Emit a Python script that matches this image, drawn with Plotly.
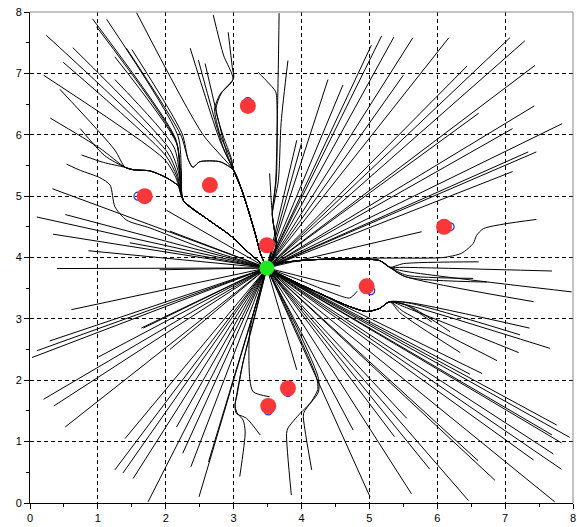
import plotly.graph_objects as go

# ---------------- data ----------------
GOAL_X, GOAL_Y = 3.49, 3.83

obstacle_x = [1.69, 2.65, 3.21, 3.49, 4.96, 6.10, 3.80, 3.51]
obstacle_y = [5.00, 5.18, 6.47, 4.20, 3.53, 4.50, 1.87, 1.58]

ring_x = [1.59, 3.21, 5.02, 6.19, 3.80, 3.51]
ring_y = [5.00, 6.54, 3.46, 4.50, 1.80, 1.50]

# straight trajectories (start points), all ending at the goal
upper_right_x = [4.39, 4.61, 5.03, 5.18, 3.93, 4.00, 5.36, 5.64, 6.17, 5.50, 6.44,
                 7.07, 7.29, 7.44, 6.61, 7.43, 7.84, 7.11, 7.34, 7.46, 7.11, 5.77]
upper_right_y = [6.90, 6.81, 7.46, 7.61, 5.91, 5.86, 7.59, 7.58, 7.58, 6.97, 7.12,
                 7.58, 7.53, 7.13, 6.35, 6.47, 6.18, 6.10, 5.72, 5.72, 5.40, 4.42]
left_x = [0.33, 0.10, 0.52, 0.34, 0.86, 0.40, 0.61, 2.01, 2.06, 1.47, 1.91, 1.67,
          0.29, 0.10, 0.03, 1.01, 0.20, 0.35, 0.52, 1.64, 2.06, 1.40]
left_y = [5.12, 4.66, 4.70, 4.38, 4.11, 3.82, 3.15, 4.77, 4.43, 4.24, 3.80, 2.85,
          2.64, 2.48, 2.37, 2.38, 1.69, 1.58, 1.24, 2.85, 2.50, 1.05]
bottom_left_x = [1.74, 2.49, 2.63, 2.37, 2.25, 2.16, 1.52, 1.25, 1.37]
bottom_left_y = [0.02, 0.10, 0.67, 0.59, 0.81, 1.24, 0.40, 0.54, 0.49]
bottom_right_x = [4.76, 5.01, 5.62, 6.46, 7.73, 6.85, 6.60, 5.89, 5.55, 7.83, 7.42,
                  7.71, 7.95, 7.76, 7.83, 7.69, 6.66, 6.48, 5.37, 3.93, 4.57]
bottom_right_y = [1.19, 0.10, 0.15, 0.04, 0.02, 0.37, 0.69, 0.55, 1.38, 0.55, 0.70,
                  0.80, 1.07, 1.27, 0.98, 1.11, 2.11, 2.10, 1.08, 2.17, 3.53]

# shared path segments around the obstacles
gap12_x = [2.26, 2.62, 2.95, 3.25]
gap12_y = [4.93, 4.62, 4.36, 4.05]
gap23_x = [3.00, 3.12, 3.23, 3.32, 3.40]
gap23_y = [5.42, 5.10, 4.72, 4.38, 4.05]
lobe1_x = [1.40, 1.52, 1.77, 2.01, 2.20]
lobe1_y = [5.47, 5.43, 5.41, 5.30, 5.15]
lobe2_x = [2.33, 2.40, 2.50, 2.80]
lobe2_y = [5.60, 5.47, 5.56, 5.56]
right4_x = [3.57, 3.60, 3.63, 3.58]
right4_y = [4.70, 4.45, 4.22, 3.98]
above5_x = [5.30, 5.15, 4.30, 3.75]
above5_y = [3.84, 3.95, 3.97, 3.92]
below5_x = [5.30, 5.15, 4.96, 4.71, 3.83]
below5_y = [3.28, 3.17, 3.12, 3.20, 3.64]

# lines from the top-left through the gap between obstacles 1 and 2
g12_start_x = [0.24, 0.63, 0.49, 0.20, 1.25, 0.92, 0.98, 1.13, 1.25]
g12_start_y = [7.62, 7.42, 7.18, 6.97, 6.90, 7.89, 7.76, 7.88, 7.27]
g12_entry_x = [2.02, 2.06, 2.00, 1.98, 2.12, 2.14, 2.15, 2.18, 2.16]
g12_entry_y = [5.72, 5.76, 5.66, 5.60, 5.80, 5.95, 5.90, 5.98, 5.86]
g12_neck_x = [2.17, 2.19, 2.16, 2.15, 2.20, 2.22, 2.21, 2.23, 2.21]
g12_neck_y = [5.36, 5.38, 5.33, 5.30, 5.40, 5.42, 5.37, 5.41, 5.35]

# lines sliding over obstacle 1
l1_start_x = [0.30, 0.74, 0.76, 0.44]
l1_start_y = [6.27, 6.10, 5.67, 6.74]
l1_entry_x = [1.03, 1.10, 1.08, 1.25]
l1_entry_y = [5.78, 5.66, 5.55, 5.75]

# lines sliding over obstacle 2
l2_start_x = [1.42, 1.50]
l2_start_y = [7.41, 7.39]
l2_entry_x = [2.22, 2.24]
l2_entry_y = [6.00, 6.02]

# lines through the gap between obstacles 2 and 3
g23_start_x = [1.57, 2.36, 2.48, 2.58]
g23_start_y = [7.99, 7.41, 7.22, 7.16]
g23_entry_x = [2.55, 2.80, 2.85, 2.90]
g23_entry_y = [6.00, 5.90, 5.78, 5.70]

# paths bending around obstacle 3 (left side)
top3_left_a_x = [2.70, 2.85, 2.99, 2.80, 2.72, 2.80, 2.95]
top3_left_a_y = [7.95, 7.30, 6.90, 6.66, 6.42, 6.00, 5.63]
top3_left_b_x = [2.92, 2.98, 3.00, 2.82, 2.74, 2.84, 2.97]
top3_left_b_y = [7.67, 7.10, 6.92, 6.68, 6.42, 6.00, 5.60]
# paths passing right of obstacle 3 and 4
top3_right_a_x = [3.67, 3.66, 3.65, 3.62]
top3_right_a_y = [7.98, 7.20, 6.61, 5.26]
top3_right_b_x = [3.36, 3.50, 3.62, 3.64, 3.63]
top3_right_b_y = [7.02, 6.86, 6.70, 6.40, 5.30]
top3_right_c_x = [3.80, 3.70, 3.66]
top3_right_c_y = [7.21, 6.20, 5.26]
top3_right_d_x = [3.53, 3.55]
top3_right_d_y = [5.37, 5.00]
# left of obstacle 1
left1_x = [0.54, 0.74, 1.03, 1.18, 1.25, 1.42, 1.77, 2.50]
left1_y = [5.52, 5.42, 5.30, 5.18, 4.83, 4.61, 4.48, 4.17]

# S-shaped path near obstacle 6
s6_x = [7.46, 6.68, 6.58, 6.53, 6.36, 6.09, 5.50, 5.11, 4.30, 3.75]
s6_y = [4.62, 4.47, 4.36, 4.23, 4.07, 4.00, 3.99, 3.99, 3.97, 3.92]

# over obstacle 5
a5_start_x = [6.61, 7.69, 7.98, 7.42, 6.73, 6.53]
a5_start_y = [3.93, 3.78, 3.44, 3.28, 3.60, 3.66]
a5_via_x = [5.50, 5.50, 5.50, 5.50, 5.55, 5.55]
a5_via_y = [3.90, 3.84, 3.78, 3.70, 3.68, 3.71]
# under obstacle 5
b5_start_x = [7.36, 7.22, 7.66, 7.20, 6.88, 6.34, 6.19, 5.92]
b5_start_y = [2.85, 2.74, 2.52, 2.45, 2.32, 2.45, 2.79, 2.95]
b5_via_x = [5.62, 5.62, 5.58, 5.55, 5.50, 5.45, 5.60, 5.55]
b5_via_y = [3.26, 3.25, 3.22, 3.18, 3.12, 3.10, 3.20, 3.22]
hook5_x = [4.82, 4.71, 4.46, 4.00]
hook5_y = [3.45, 3.34, 3.42, 3.62]

# around obstacles 7 and 8
bot_a_x = [3.53, 3.29, 3.24, 3.24]
bot_a_y = [1.73, 1.81, 2.00, 2.82]
bot_b_x = [3.39, 3.19, 3.04, 3.02, 3.04, 3.12, 3.25]
bot_b_y = [1.11, 1.38, 1.46, 1.57, 1.73, 2.20, 2.80]
bot_c_x = [3.09, 3.17, 3.14, 3.05, 3.02, 3.05, 3.14, 3.28]
bot_c_y = [0.43, 1.16, 1.35, 1.47, 1.60, 1.76, 2.30, 2.90]
bot_d_x = [3.85, 3.78, 3.80, 3.98, 4.15, 4.25, 4.25, 4.00]
bot_d_y = [0.13, 1.13, 1.22, 1.46, 1.65, 1.81, 2.03, 2.70]
bot_e_x = [4.15, 4.05, 4.03, 4.15, 4.24, 4.22]
bot_e_y = [0.54, 1.20, 1.46, 1.66, 1.85, 2.05]

# ---------------- build traces ----------------
sx, sy = [], []
for xs, ys in [(upper_right_x, upper_right_y), (left_x, left_y),
               (bottom_left_x, bottom_left_y), (bottom_right_x, bottom_right_y)]:
    for x, y in zip(xs, ys):
        sx += [x, GOAL_X, None]
        sy += [y, GOAL_Y, None]

cx, cy = [], []


def add(px, py):
    cx.extend(list(px) + [GOAL_X, None])
    cy.extend(list(py) + [GOAL_Y, None])


for i in range(len(g12_start_x)):
    add([g12_start_x[i], g12_entry_x[i], g12_neck_x[i]] + gap12_x,
        [g12_start_y[i], g12_entry_y[i], g12_neck_y[i]] + gap12_y)
for i in range(len(l1_start_x)):
    add([l1_start_x[i], l1_entry_x[i]] + lobe1_x + gap12_x,
        [l1_start_y[i], l1_entry_y[i]] + lobe1_y + gap12_y)
for i in range(len(l2_start_x)):
    add([l2_start_x[i], l2_entry_x[i]] + lobe2_x + gap23_x,
        [l2_start_y[i], l2_entry_y[i]] + lobe2_y + gap23_y)
for i in range(len(g23_start_x)):
    add([g23_start_x[i], g23_entry_x[i]] + gap23_x,
        [g23_start_y[i], g23_entry_y[i]] + gap23_y)
add(top3_left_a_x + gap23_x, top3_left_a_y + gap23_y)
add(top3_left_b_x + gap23_x, top3_left_b_y + gap23_y)
for px, py in [(top3_right_a_x, top3_right_a_y), (top3_right_b_x, top3_right_b_y),
               (top3_right_c_x, top3_right_c_y), (top3_right_d_x, top3_right_d_y)]:
    add(px + right4_x, py + right4_y)
add(left1_x, left1_y)
add(s6_x, s6_y)
for i in range(len(a5_start_x)):
    add([a5_start_x[i], a5_via_x[i]] + above5_x, [a5_start_y[i], a5_via_y[i]] + above5_y)
for i in range(len(b5_start_x)):
    add([b5_start_x[i], b5_via_x[i]] + below5_x, [b5_start_y[i], b5_via_y[i]] + below5_y)
add(hook5_x, hook5_y)
for px, py in [(bot_a_x, bot_a_y), (bot_b_x, bot_b_y), (bot_c_x, bot_c_y),
               (bot_d_x, bot_d_y), (bot_e_x, bot_e_y)]:
    add(px, py)

fig = go.Figure()
fig.add_trace(go.Scatter(x=sx, y=sy, mode="lines", line=dict(color="black", width=1),
                         hoverinfo="skip", showlegend=False))
fig.add_trace(go.Scatter(x=cx, y=cy, mode="lines",
                         line=dict(color="black", width=1, shape="spline", smoothing=0.7),
                         hoverinfo="skip", showlegend=False))
fig.add_trace(go.Scatter(x=ring_x, y=ring_y, mode="markers",
                         marker=dict(symbol="circle-open", size=8, color="#3030c0",
                                     line=dict(width=1.2, color="#3030c0")),
                         hoverinfo="skip", showlegend=False))
fig.add_trace(go.Scatter(x=obstacle_x, y=obstacle_y, mode="markers",
                         marker=dict(size=16, color="#f83838", line=dict(width=0)),
                         hoverinfo="skip", showlegend=False))
fig.add_trace(go.Scatter(x=[GOAL_X], y=[GOAL_Y], mode="markers",
                         marker=dict(size=15, color="#22e822", line=dict(width=0)),
                         hoverinfo="skip", showlegend=False))

axis_common = dict(
    range=[0, 8], dtick=1, tick0=0, showgrid=True, gridcolor="black", gridwidth=1,
    griddash="4px,3px", zeroline=False, showline=True, linecolor="black", linewidth=1,
    ticks="outside", ticklen=5, tickcolor="black", tickwidth=1, automargin=False,
    tickfont=dict(family="Liberation Sans, Arial, sans-serif", size=11, color="black"),
    minor=dict(dtick=0.5, ticks="outside", ticklen=3, tickcolor="black", showgrid=False),
)
fig.update_layout(
    width=577, height=527,
    margin=dict(l=30, r=4, t=12, b=24, autoexpand=False),
    plot_bgcolor="white", paper_bgcolor="white",
    xaxis=axis_common, yaxis=axis_common,
    shapes=[
        dict(type="line", xref="paper", yref="paper", x0=0, x1=1, y0=1, y1=1,
             line=dict(color="#888888", width=1)),
        dict(type="line", xref="paper", yref="paper", x0=1, x1=1, y0=0, y1=1,
             line=dict(color="#888888", width=1)),
    ],
)
fig.write_html("out.html", config={"displayModeBar": False},
               post_script="document.body.style.margin='0px';document.body.style.overflow='hidden';")
